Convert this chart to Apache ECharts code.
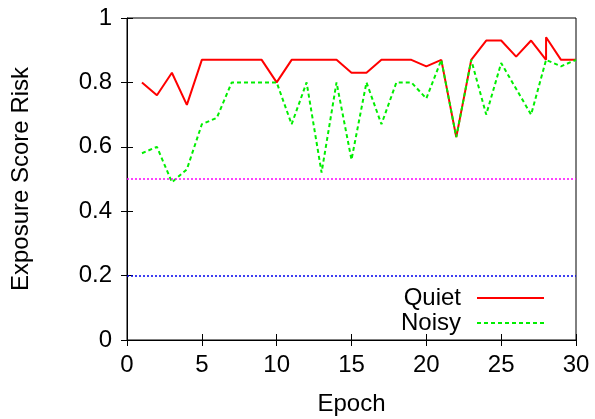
<!DOCTYPE html>
<html><head><meta charset="utf-8">
<script src="https://cdn.jsdelivr.net/npm/echarts@6/dist/echarts.min.js"></script>
<style>html,body{margin:0;padding:0;background:#fff}#c{width:595px;height:419px}</style>
</head><body><div id="c"></div>
<script>
const quietEpochs = [1,2,3,4,5,6,7,8,9,10,11,12,13,14,15,16,17,18,19,20,21,22,23,24,25,26,27,28,28,29,30];
const quietValues = [0.80,0.76,0.83,0.73,0.87,0.87,0.87,0.87,0.87,0.80,0.87,0.87,0.87,0.87,0.83,0.83,0.87,0.87,0.87,0.85,0.87,0.63,0.87,0.93,0.93,0.88,0.93,0.87,0.94,0.87,0.87];
const noisyEpochs = [1,2,3,4,5,6,7,8,9,10,11,12,13,14,15,16,17,18,19,20,21,22,23,24,25,26,27,28,29,30];
const noisyValues = [0.58,0.60,0.49,0.53,0.67,0.69,0.80,0.80,0.80,0.80,0.67,0.80,0.52,0.80,0.56,0.80,0.67,0.80,0.80,0.75,0.87,0.63,0.87,0.70,0.86,0.78,0.70,0.87,0.85,0.87];
const thresholds = [0.5, 0.2];
const thresholdColors = ['#ff00ff', '#0000ee'];

const font = 'Liberation Sans';
const fs = 24;
const chart = echarts.init(document.getElementById('c'));
const zip = (a,b) => a.map((v,i)=>[v,b[i]]);
const tickStyle = {show:true, inside:true, length:6, lineStyle:{color:'#000', width:1}};
chart.setOption({
  animation:false,
  grid:{left:127, right:19, top:18, bottom:79, show:true, borderColor:'#000', borderWidth:1,
        containLabel:false, outerBoundsMode:'none'},
  legend:{
    orient:'vertical', right:45, top:281, align:'right', itemWidth:67, itemHeight:14, itemGap:1,
    itemStyle:{opacity:0},
    textStyle:{fontFamily:font, fontSize:fs, color:'#000', lineHeight:24, padding:[0,11,0,0]},
    data:['Quiet','Noisy']
  },
  xAxis:[{
    type:'value', min:0, max:30, interval:5,
    name:'Epoch', nameLocation:'middle', nameGap:52,
    nameTextStyle:{fontFamily:font, fontSize:fs, color:'#000'},
    axisLine:{show:true, lineStyle:{color:'#000'}},
    axisTick:tickStyle, splitLine:{show:false},
    axisLabel:{fontFamily:font, fontSize:fs, color:'#000', margin:13}
  },{
    type:'value', position:'top', min:0, max:30, interval:5,
    axisLine:{show:false}, axisTick:tickStyle, axisLabel:{show:false}, splitLine:{show:false}
  }],
  yAxis:[{
    type:'value', min:0, max:1, interval:0.2,
    name:'Exposure Score Risk', nameLocation:'middle', nameGap:94,
    nameTextStyle:{fontFamily:font, fontSize:fs, color:'#000'},
    axisLine:{show:true, lineStyle:{color:'#000'}},
    axisTick:tickStyle, splitLine:{show:false},
    axisLabel:{fontFamily:font, fontSize:fs, color:'#000', margin:15,
      formatter:v=>String(Math.round(v*10)/10)}
  },{
    type:'value', position:'right', min:0, max:1, interval:0.2,
    axisLine:{show:false}, axisTick:tickStyle, axisLabel:{show:false}, splitLine:{show:false}
  }],
  series:[
    {name:'Quiet', type:'line', data:zip(quietEpochs, quietValues), symbol:'none',
     lineStyle:{color:'#ff0000', width:2}, itemStyle:{color:'#ff0000'}, z:3,
     markLine:{silent:true, symbol:'none', label:{show:false},
       data: thresholds.map((t,i)=>({yAxis:t, lineStyle:{color:thresholdColors[i], type:[2,2], width:1.5}}))}},
    {name:'Noisy', type:'line', data:zip(noisyEpochs, noisyValues), symbol:'none',
     lineStyle:{color:'#00ee00', width:2, type:[4,3]}, itemStyle:{color:'#00ee00'}, z:4}
  ]
});
</script></body></html>
